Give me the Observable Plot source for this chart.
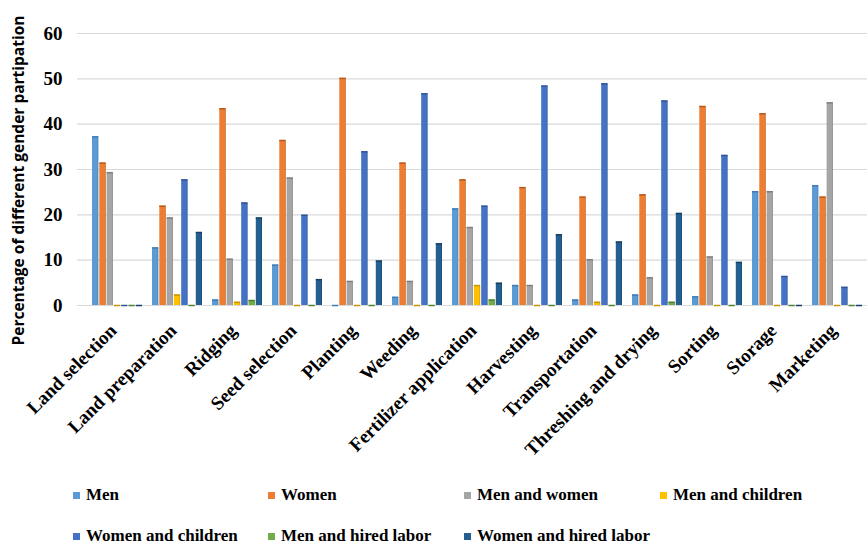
<!DOCTYPE html>
<html><head><meta charset="utf-8">
<script src="https://cdn.jsdelivr.net/npm/d3@7"></script>
<script src="https://cdn.jsdelivr.net/npm/@observablehq/plot@0.6"></script>
<style>
body{margin:0;background:#fff;width:867px;height:544px;overflow:hidden;position:relative;}
#legend{position:absolute;left:0;top:0;width:867px;height:544px;pointer-events:none;
 font-family:"Liberation Serif",serif;font-weight:bold;font-size:17px;line-height:14px;color:#000;}
#legend div{position:absolute;display:flex;align-items:center;height:14px;white-space:nowrap;}
#legend span.sw{display:inline-block;width:7px;height:7px;margin-right:6px;}
</style>
</head><body>
<div id="chart"></div>
<div id="legend"></div>
<script>
const tasks = ["Land selection","Land preparation","Ridging","Seed selection","Planting","Weeding","Fertilizer application","Harvesting","Transportation","Threshing and drying","Sorting","Storage","Marketing"];
const seriesNames = ["Men","Women","Men and women","Men and children","Women and children","Men and hired labor","Women and hired labor"];
const men            = [37.2, 12.7, 1.2, 8.9, 0, 1.8, 21.3, 4.4, 1.2, 2.3, 1.9, 25.1, 26.4];
const women          = [31.4, 21.9, 43.4, 36.4, 50.1, 31.4, 27.7, 26.0, 23.9, 24.4, 43.9, 42.3, 23.9];
const menWomen       = [29.3, 19.3, 10.2, 28.1, 5.3, 5.3, 17.2, 4.4, 10.1, 6.1, 10.7, 25.1, 44.7];
const menChildren    = [0, 2.3, 0.7, 0, 0, 0, 4.4, 0, 0.7, 0, 0, 0, 0];
const womenChildren  = [0, 27.7, 22.6, 19.9, 33.9, 46.7, 21.9, 48.4, 48.9, 45.1, 33.1, 6.4, 4.0];
const menHired       = [0, 0, 1.1, 0, 0, 0, 1.2, 0, 0, 0.7, 0, 0, 0];
const womenHired     = [0, 16.1, 19.3, 5.7, 9.8, 13.6, 4.9, 15.6, 14.0, 20.3, 9.5, 0, 0];
const yTicks = [0,10,20,30,40,50,60];
const colors = ["#5B9BD5","#ED7D31","#A5A5A5","#FFC000","#4472C4","#70AD47","#255E91"];
const darkColors = ["#3F7BB5","#B85A1C","#7E7E7E","#C79500","#2F5597","#4E8231","#173E62"];

const seriesValues = [men, women, menWomen, menChildren, womenChildren, menHired, womenHired];

const W = 867, H = 480, mL = 77, mR = 0, mT = 33, mB = 175, pad = 0.16;
const xRange = [77.3, 877.7];
// bandwidth of the task band scale, used to split each band among the series
const bw = d3.scaleBand().domain(tasks).range(xRange).padding(pad).bandwidth();
const w = bw / seriesNames.length;

const barMarks = [];
seriesNames.forEach((s, j) => {
  const rows = tasks.map((t, i) => ({task: t, value: seriesValues[j][i]}));
  const il = j * w, ir = (seriesNames.length - 1 - j) * w;
  barMarks.push(Plot.barY(rows, {x: "task", y: "value", fill: colors[j], insetLeft: il, insetRight: ir}));
  barMarks.push(Plot.barY(rows, {x: "task", y: "value", fill: darkColors[j], insetLeft: il + w - 1.6, insetRight: ir}));
  barMarks.push(Plot.tickY(rows, {x: "task", y: "value", stroke: darkColors[j], strokeWidth: 1.5, insetLeft: il, insetRight: ir}));
});

const chart = Plot.plot({
  width: W, height: H,
  marginTop: mT, marginBottom: mB, marginLeft: mL, marginRight: mR,
  x: {domain: tasks, padding: pad, range: xRange, label: null},
  y: {domain: [0, 60], label: null},
  marks: [
    Plot.ruleY(yTicks, {stroke: "#d9d9d9", strokeWidth: 1.2}),
    ...barMarks,
    Plot.axisY({ticks: yTicks, tickSize: 0, tickPadding: 15, fontSize: 19, fontWeight: "bold", fontFamily: "Liberation Serif", label: null}),
    Plot.axisX({tickSize: 0, tickPadding: 22, dx: -4, tickRotate: -45, fontSize: 19, fontWeight: "bold", fontFamily: "Liberation Serif", label: null}),
    Plot.text(["Percentage of different gender partipation"], {frameAnchor: "left", textAnchor: "middle", rotate: -90, dx: -58, dy: 11, fontSize: 15.5, fontWeight: "bold", fontFamily: "Open Sans", fill: "#000"})
  ],
  style: {background: "#fff", color: "#000", overflow: "visible"}
});
document.getElementById("chart").appendChild(chart);

// legend: 4 items on the first row, 3 on the second
const legX = [73, 268, 464, 660];
const legY = [488, 529];
const leg = document.getElementById("legend");
seriesNames.forEach((s, j) => {
  const d = document.createElement("div");
  d.style.left = legX[j % 4] + "px";
  d.style.top = legY[Math.floor(j / 4)] + "px";
  d.innerHTML = `<span class="sw" style="background:${colors[j]}"></span><span>${s}</span>`;
  leg.appendChild(d);
});
</script>
</body></html>
